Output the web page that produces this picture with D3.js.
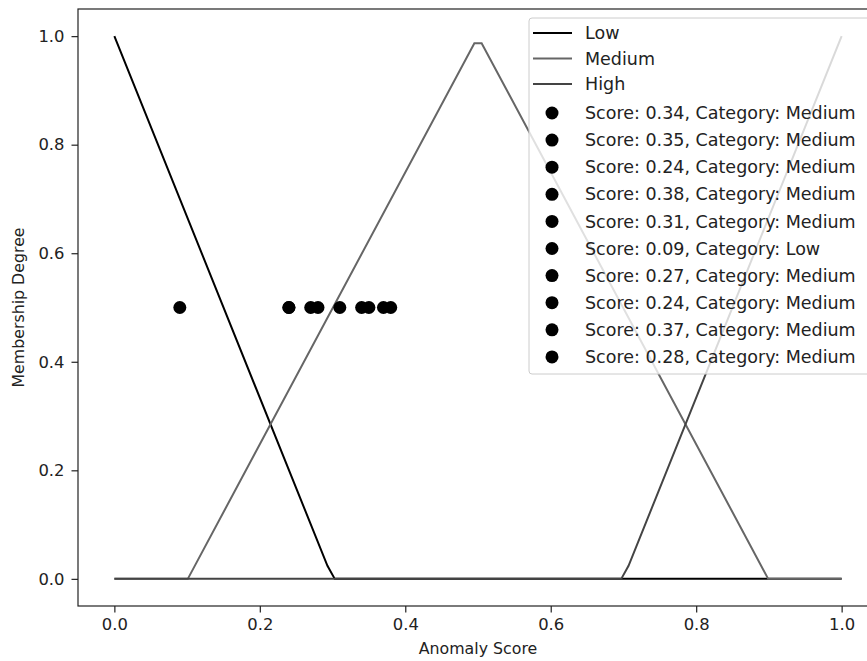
<!DOCTYPE html>
<meta charset="utf-8">
<script src="https://cdn.jsdelivr.net/npm/d3@7"></script>
<style>
  body { margin: 0; background: #fff; }
  text { font-family: "DejaVu Sans", sans-serif; }
</style>
<div id="chart"></div>
<script>
// membership curves, vertices
var lowX = [0, 0.293, 0.303, 1];
var lowY = [1, 0.024, 0, 0];
var medX = [0, 0.101, 0.495, 0.505, 0.899, 1];
var medY = [0, 0, 0.987, 0.987, 0, 0];
var highX = [0, 0.697, 0.707, 1];
var highY = [0, 0, 0.024, 1];

var scores = [0.34, 0.35, 0.24, 0.38, 0.31, 0.09, 0.27, 0.24, 0.37, 0.28];
var categories = ["Medium", "Medium", "Medium", "Medium", "Medium", "Low", "Medium", "Medium", "Medium", "Medium"];
var pointY = 0.5;

var xTicks = [0, 0.2, 0.4, 0.6, 0.8, 1.0];
var yTicks = [0, 0.2, 0.4, 0.6, 0.8, 1.0];

var W = 867, H = 661;
var margin = {top: 9, right: -11, bottom: 55, left: 78};
var width = W - margin.left - margin.right,
    height = H - margin.top - margin.bottom;

var svg = d3.select("#chart").append("svg")
    .attr("width", W).attr("height", H)
    .style("display", "block");
var g = svg.append("g")
    .attr("transform", "translate(" + margin.left + "," + margin.top + ")");

var x = d3.scaleLinear().domain([-0.05, 1.05]).range([0, width]);
var y = d3.scaleLinear().domain([-0.05, 1.05]).range([height, 0]);

// axes
var xa = g.append("g").attr("transform", "translate(0," + height + ")")
  .call(d3.axisBottom(x).tickValues(xTicks).tickFormat(d3.format(".1f")).tickSize(6.5).tickPadding(6));
var ya = g.append("g")
  .call(d3.axisLeft(y).tickValues(yTicks).tickFormat(d3.format(".1f")).tickSize(6.5).tickPadding(7));
[xa, ya].forEach(function(a) {
  a.select(".domain").remove();
  a.selectAll("text").style("font-size", "16.4px").attr("fill", "#222");
  a.selectAll("line").attr("stroke", "#222").attr("stroke-width", 1.2);
});

var curves = [
  {name: "Low", xs: lowX, ys: lowY, color: "#000000"},
  {name: "Medium", xs: medX, ys: medY, color: "#666666"},
  {name: "High", xs: highX, ys: highY, color: "#444444"}
];
var line = d3.line().x(function(d) { return x(d[0]); }).y(function(d) { return y(d[1]); });

curves.forEach(function(c) {
  g.append("path")
    .datum(d3.zip(c.xs, c.ys))
    .attr("d", line)
    .attr("fill", "none")
    .attr("stroke", c.color)
    .attr("stroke-width", 2);
});

g.selectAll(".pt").data(scores).enter().append("circle")
  .attr("cx", function(d) { return x(d); })
  .attr("cy", y(pointY))
  .attr("r", 6.5)
  .attr("fill", "#000");

// frame
g.append("rect").attr("x", 0).attr("y", 0).attr("width", width).attr("height", height)
  .attr("fill", "none").attr("stroke", "#222").attr("stroke-width", 1.2);

// axis labels
g.append("text").attr("x", width / 2).attr("y", height + 48)
  .attr("text-anchor", "middle").style("font-size", "15.8px").attr("fill", "#222")
  .text("Anomaly Score");
g.append("text").attr("transform", "translate(" + (-54) + "," + (height / 2) + ")rotate(-90)")
  .attr("text-anchor", "middle").style("font-size", "15.8px").attr("fill", "#222")
  .text("Membership Degree");

// legend
var lg = svg.append("g").attr("transform", "translate(529,18)");
lg.append("rect").attr("x", 0).attr("y", 0).attr("width", 342).attr("height", 356)
  .attr("rx", 3).attr("fill", "#fff").attr("fill-opacity", 0.8)
  .attr("stroke", "#cccccc").attr("stroke-width", 1);

curves.forEach(function(c, i) {
  var yy = 15 + i * 25.5;
  lg.append("line").attr("x1", 4).attr("x2", 43).attr("y1", yy).attr("y2", yy)
    .attr("stroke", c.color).attr("stroke-width", 2);
  lg.append("text").attr("x", 56).attr("y", yy).attr("dy", "0.35em")
    .style("font-size", "17.5px").attr("fill", "#222").text(c.name);
});
scores.forEach(function(s, i) {
  var yy = 95 + i * 27.1;
  lg.append("circle").attr("cx", 23).attr("cy", yy).attr("r", 6.5).attr("fill", "#000");
  lg.append("text").attr("x", 56).attr("y", yy).attr("dy", "0.35em")
    .style("font-size", "17.5px").attr("fill", "#222")
    .text("Score: " + s.toFixed(2) + ", Category: " + categories[i]);
});
</script>
